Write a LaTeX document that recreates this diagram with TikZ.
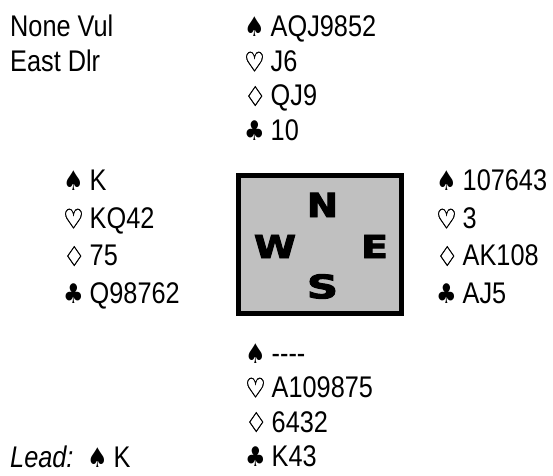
\documentclass[tikz,border=0pt]{standalone}
\usepackage{fontspec}
\usepackage{graphicx}
\setmainfont{Liberation Sans}
\newfontfamily\suitfont{DejaVu Sans}
\newfontfamily\suitfontbold[FakeBold=1.2]{DejaVu Sans}
\newfontfamily\compassfont[FakeBold=3]{DejaVu Sans Bold}
\definecolor{boxgray}{HTML}{C0C0C0}
\newcommand{\suitS}{\makebox[26.5bp][l]{\suitfont\fontsize{23bp}{28bp}\selectfont ♠}}
\newcommand{\suitH}{\makebox[26.5bp][l]{\suitfontbold\fontsize{23bp}{28bp}\selectfont ♡}}
\newcommand{\suitD}{\makebox[26.5bp][l]{\suitfontbold\fontsize{22bp}{28bp}\selectfont\scalebox{1.12}[1.05]{♢}}}
\newcommand{\suitC}{\makebox[26.5bp][l]{\suitfont\fontsize{23bp}{28bp}\selectfont ♣}}
\newcommand{\tall}[1]{\scalebox{1}[1.18]{#1}}
\begin{document}
\begin{tikzpicture}[x=1bp,y=-1bp,
  txt/.style={anchor=base west,inner sep=0pt,font=\fontsize{25.3bp}{30bp}\selectfont},
  cmp/.style={anchor=center,inner sep=0pt,font=\compassfont}]
\useasboundingbox (0,0) rectangle (553,476);
% info
\node[txt] (vul) at (10,37) {\tall{None Vul}};
\node[txt] (dlr) at (10,71.5) {\tall{East Dlr}};
% North
\node[txt] (ns) at (244,37) {\tall{\suitS AQJ9852}};
\node[txt] (nh) at (244,71.5) {\tall{\suitH J6}};
\node[txt] (nd) at (244,106) {\tall{\suitD QJ9}};
\node[txt] (nc) at (244,140.5) {\tall{\suitC 10}};
% West
\node[txt] (ws) at (63,191) {\tall{\suitS K}};
\node[txt] (wh) at (63,228.5) {\tall{\suitH KQ42}};
\node[txt] (wd) at (63,266) {\tall{\suitD 75}};
\node[txt] (wc) at (63,303) {\tall{\suitC Q98762}};
% East
\node[txt] (es) at (436,191) {\tall{\suitS 107643}};
\node[txt] (eh) at (436,228.5) {\tall{\suitH 3}};
\node[txt] (ed) at (436,266) {\tall{\suitD AK108}};
\node[txt] (ec) at (436,303) {\tall{\suitC AJ5}};
% South
\node[txt] (ss) at (245,363) {\tall{\suitS -{}-{}-{}-}};
\node[txt] (sh) at (245,397.5) {\tall{\suitH A109875}};
\node[txt] (sd) at (245,432) {\tall{\suitD 6432}};
\node[txt] (sc) at (245,466) {\tall{\suitC K43}};
% Lead
\node[txt] (lead) at (10,467) {\tall{\makebox[77bp][l]{\textit{Lead:}}\suitS K}};
% compass box
\fill[black] (236,173) rectangle (404,316);
\fill[boxgray] (241,178) rectangle (399,311);
\node[cmp] (cn) at (322.5,205) {\resizebox{31bp}{24bp}{N}};
\node[cmp] (cw) at (275,246.5) {\resizebox{42bp}{23bp}{W}};
\node[cmp] (ce) at (374.5,246.5) {\resizebox{27bp}{23bp}{E}};
\node[cmp] (cs) at (322.5,286.5) {\resizebox{31bp}{24bp}{S}};
\end{tikzpicture}
\end{document}
